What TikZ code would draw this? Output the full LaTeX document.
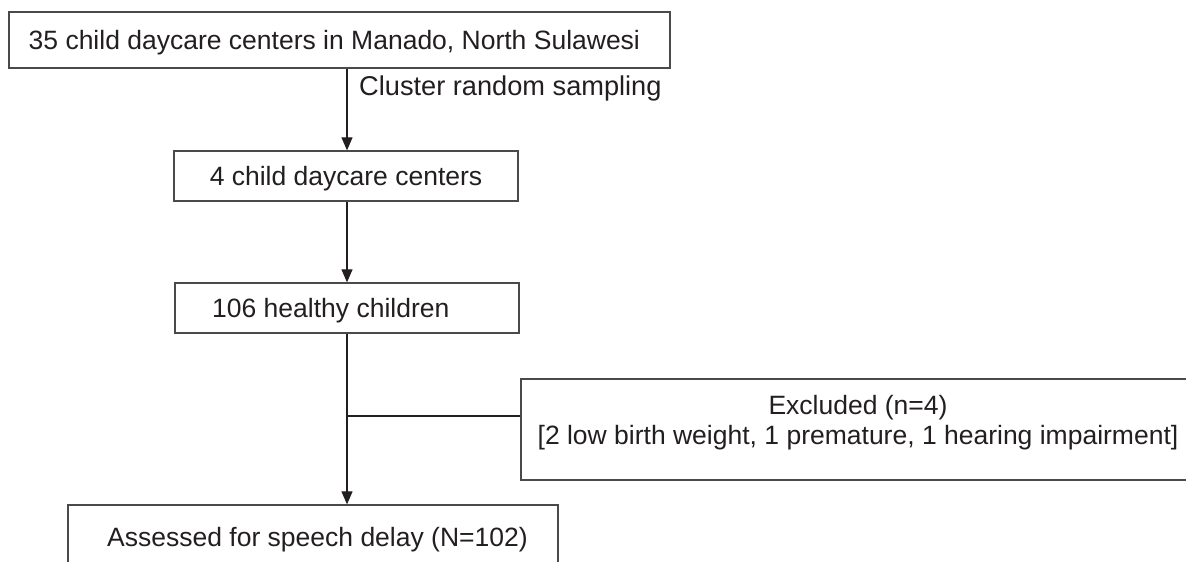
\documentclass[tikz,border=0pt]{standalone}
\usepackage{fontspec}
\setmainfont{Liberation Sans}
\usetikzlibrary{arrows.meta}
\definecolor{ink}{HTML}{231F20}
\definecolor{edge}{HTML}{4A4A4A}
\begin{document}
\begin{tikzpicture}[x=1pt,y=-1pt,
  txt/.style={font=\fontsize{26.5pt}{30pt}\selectfont, text=ink, inner sep=0pt},
  box/.style={draw=edge, line width=1.3pt, inner sep=0pt},
  conn/.style={draw=ink, line width=1.1pt},
  arr/.style={conn, -{Triangle[length=13pt,width=11pt]}}]
\useasboundingbox (0,0) rectangle (1186,562);
\clip (0,0) rectangle (1186,562);
\fill[white] (0,0) rectangle (1186,562);

% boxes
\node[box, minimum width=661pt, minimum height=56pt] (A) at (339.5,40) {};
\node[box, minimum width=344pt, minimum height=50pt] (B) at (346,176) {};
\node[box, minimum width=344pt, minimum height=50pt] (C) at (347,308) {};
\node[box, minimum width=490pt, minimum height=64pt] (D) at (313,537) {};
\node[box, minimum width=674pt, minimum height=101pt] (E) at (858,429.5) {};

% texts
\node[txt, anchor=base west] (At) at (28.5,49.5) {35 child daycare centers in Manado, North Sulawesi};
\node[txt, anchor=base] (Bt) at (346,185.5) {4 child daycare centers};
\node[txt, anchor=base west] (Ct) at (212,317.5) {106 healthy children};
\node[txt, anchor=base west] (Dt) at (107,546.5) {Assessed for speech delay (N=102)};
\node[txt, align=center] (Et) at (858,423) {Excluded (n=4)\\{[}2 low birth weight, 1 premature, 1 hearing impairment{]}};
\node[txt, font=\fontsize{27.2pt}{30pt}\selectfont, anchor=base west] (L) at (359,95) {Cluster random sampling};

% connectors
\coordinate (br) at (347,416);
\draw[arr] (A.south -| C.north) -- (B.north -| C.north);
\draw[arr] (B.south -| C.north) -- (C.north);
\draw[arr] (C.south) -- (D.north -| C.south);
\draw[conn] (br) -- (br -| E.west);
\end{tikzpicture}
\end{document}
